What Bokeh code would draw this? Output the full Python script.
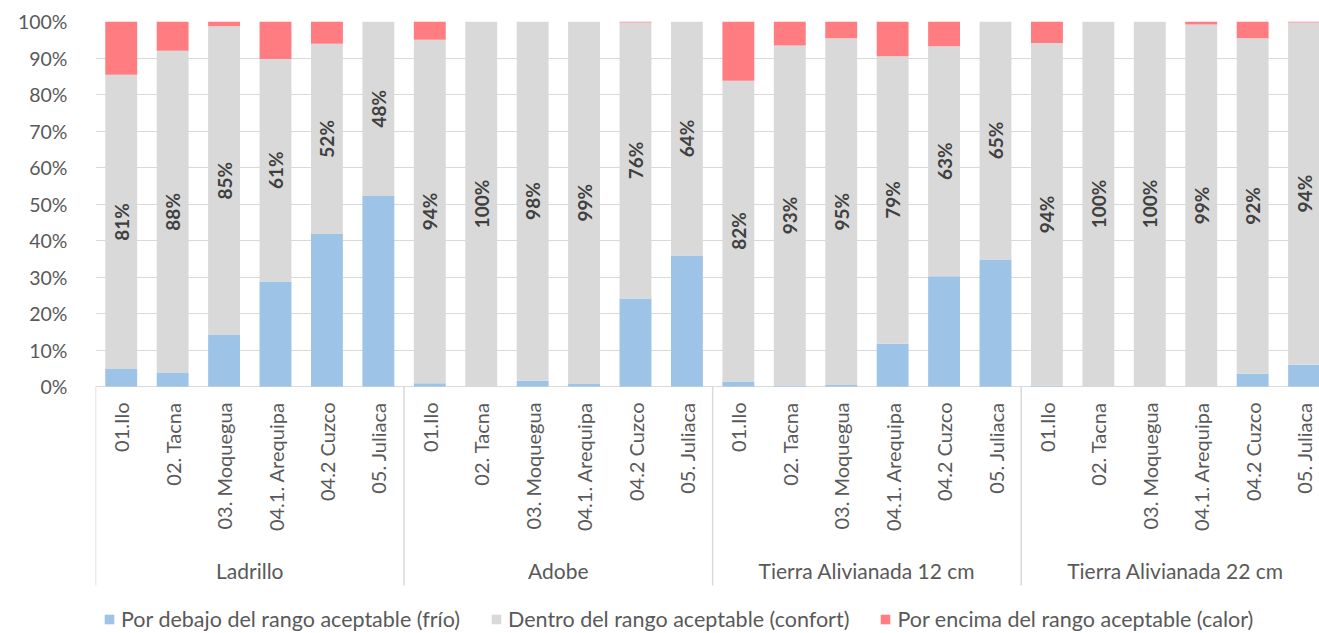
import math
from bokeh.plotting import figure
from bokeh.models import ColumnDataSource, Range1d, FixedTicker, PrintfTickFormatter, Legend, LegendItem
from bokeh.embed import file_html
from bokeh.resources import INLINE
from bokeh.core.properties import value

groups = ["Ladrillo", "Adobe", "Tierra Alivianada 12 cm", "Tierra Alivianada 22 cm"]
cities = ["01.Ilo", "02. Tacna", "03. Moquegua", "04.1. Arequipa", "04.2 Cuzco", "05. Juliaca"]

# % of hours below / within / above the acceptable range
below_ladrillo = [4.8, 3.7, 14.1, 28.8, 41.8, 52.2]
within_ladrillo = [80.6, 88.3, 84.6, 60.9, 52.1, 47.8]
above_ladrillo = [14.6, 8.0, 1.3, 10.3, 6.1, 0.0]

below_adobe = [0.9, 0.0, 1.6, 0.7, 24.1, 35.9]
within_adobe = [94.1, 100.0, 98.4, 99.3, 75.6, 64.1]
above_adobe = [5.0, 0.0, 0.0, 0.0, 0.3, 0.0]

below_ta12 = [1.4, 0.3, 0.4, 11.7, 30.2, 34.8]
within_ta12 = [82.4, 93.1, 95.0, 78.8, 63.0, 65.2]
above_ta12 = [16.2, 6.6, 4.6, 9.5, 6.8, 0.0]

below_ta22 = [0.2, 0.0, 0.0, 0.0, 3.5, 6.0]
within_ta22 = [93.9, 100.0, 100.0, 99.2, 91.9, 93.7]
above_ta22 = [5.9, 0.0, 0.0, 0.8, 4.6, 0.3]

y_ticks = [0, 10, 20, 30, 40, 50, 60, 70, 80, 90, 100]
legend_labels = ["Por debajo del rango aceptable (frío)",
                 "Dentro del rango aceptable (confort)",
                 "Por encima del rango aceptable (calor)"]

BLUE, GREY, RED = "#9DC3E6", "#D9D9D9", "#FF7C80"
TXT = "#595959"
FONT = "Lato"

below = below_ladrillo + below_adobe + below_ta12 + below_ta22
within = within_ladrillo + within_adobe + within_ta12 + within_ta22
above = above_ladrillo + above_adobe + above_ta12 + above_ta22
n_c = len(cities)
xs, city_lab = [], []
for gi, g in enumerate(groups):
    for ci, c in enumerate(cities):
        xs.append(gi * n_c + ci + 0.5)
        city_lab.append(c)

src = ColumnDataSource(dict(
    x=xs, below=below, within=within, above=above, city=city_lab,
    lab_y=[b + w / 2 for b, w in zip(below, within)],
    lab=[f"{round(w)}%" for w in within],
))

# layout constants (pixels -> data units)
PX_PER_PCT = 3.65
frame_h = 633 - 21
y_lo = -(frame_h / PX_PER_PCT - 100)

p = figure(width=1319, height=633, output_backend="svg", toolbar_location=None,
           x_range=Range1d(0, 23.8), y_range=Range1d(y_lo, 100),
           x_axis_location=None, min_border_top=21, min_border_bottom=0,
           min_border_left=95, min_border_right=0)
p.outline_line_color = None
p.background_fill_color = "white"
p.xgrid.visible = False
p.ygrid.grid_line_color = GREY
p.ygrid.grid_line_width = 1
p.ygrid.bounds = (0, 100)
p.yaxis.ticker = FixedTicker(ticks=y_ticks)
p.yaxis.formatter = PrintfTickFormatter(format="%d%%")
p.yaxis.axis_line_color = None
p.yaxis.major_tick_line_color = None
p.yaxis.minor_tick_line_color = None
p.yaxis.major_label_text_font = FONT
p.yaxis.major_label_text_font_size = "19.5px"
p.yaxis.major_label_text_color = TXT
p.yaxis.major_label_standoff = 22
p.yaxis.bounds = (0, 100)

rs = p.vbar_stack(["below", "within", "above"], x="x", width=0.62, source=src,
                  color=[BLUE, GREY, RED], line_color=None)

p.text(x="x", y="lab_y", text="lab", source=src, angle=math.pi / 2,
       text_align="center", text_baseline="middle", text_font=value(FONT),
       text_font_style="bold", text_font_size="19px", text_color="#404040")

# category axis (drawn below the 0% line)
p.text(x="x", y=-16 / PX_PER_PCT, text="city", source=src, angle=math.pi / 2,
       text_align="right", text_baseline="middle", text_font=value(FONT),
       text_font_size="20px", text_color=TXT)
gsrc = ColumnDataSource(dict(x=[gi * n_c + n_c / 2 for gi in range(len(groups))], g=groups))
p.text(x="x", y=-184 / PX_PER_PCT, text="g", source=gsrc, text_align="center",
       text_baseline="middle", text_font=value(FONT), text_font_size="21px", text_color=TXT)
sep_x = [gi * n_c for gi in range(len(groups) + 1)]
p.segment(x0=sep_x, y0=[0] * len(sep_x), x1=sep_x, y1=[-199 / PX_PER_PCT] * len(sep_x),
          line_color=GREY, line_width=1.5)

legend = Legend(items=[LegendItem(label=l, renderers=[r]) for l, r in zip(legend_labels, rs)],
                location=(8, 1), orientation="horizontal")
legend.label_text_font = FONT
legend.label_text_font_size = "21.5px"
legend.label_text_color = TXT
legend.glyph_width = 12
legend.glyph_height = 12
legend.label_standoff = 6
legend.spacing = 30
legend.padding = 0
legend.margin = 0
legend.label_height = 22
legend.border_line_color = None
legend.background_fill_alpha = 0
p.add_layout(legend)

open("out.html", "w").write(file_html(p, INLINE))
